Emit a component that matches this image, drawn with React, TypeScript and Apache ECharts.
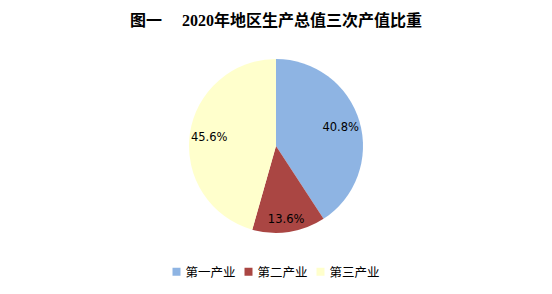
import React, { useEffect, useRef } from "react";
import * as echarts from "echarts";

const categories = ["第一产业", "第二产业", "第三产业"];
const values = [40.8, 13.6, 45.6];
const colors = ["#8EB4E3", "#AA4643", "#FFFFCC"];
const titleText = "图一　 2020年地区生产总值三次产值比重";

export default function App() {
  const ref = useRef<HTMLDivElement>(null);
  useEffect(() => {
    document.body.style.margin = "0";
    const chart = echarts.init(ref.current!, null, { renderer: "svg" });
    const data = categories.map((name, i) => ({
      name,
      value: values[i],
      itemStyle: { color: colors[i] },
    }));
    chart.setOption({
      animation: false,
      backgroundColor: "#ffffff",
      title: {
        text: titleText,
        left: "center",
        top: 7,
        textStyle: {
          fontFamily: "'Liberation Serif', 'Noto Sans CJK SC', serif",
          fontSize: 16,
          fontWeight: "bold",
          color: "#000000",
        },
      },
      legend: {
        data: categories,
        bottom: 11,
        left: "center",
        icon: "rect",
        itemWidth: 8,
        itemHeight: 8,
        itemGap: 9,
        textStyle: {
          fontFamily: "'Noto Sans CJK SC', sans-serif",
          fontSize: 12.5,
          color: "#000000",
        },
      },
      series: [
        {
          type: "pie",
          center: [276, 146],
          radius: [0, 87],
          startAngle: 90,
          clockwise: true,
          label: { show: false },
          labelLine: { show: false },
          emphasis: { disabled: true },
          data,
        },
        {
          type: "pie",
          center: [276, 146],
          radius: [42, 87],
          startAngle: 90,
          clockwise: true,
          silent: true,
          itemStyle: { color: "rgba(0,0,0,0)" },
          legendHoverLink: false,
          label: {
            show: true,
            position: "inside",
            formatter: (p: any) => p.value.toFixed(1) + "%",
            fontFamily: "'DejaVu Sans', sans-serif",
            fontSize: 11.5,
            color: "#000000",
          },
          labelLine: { show: false },
          emphasis: { disabled: true },
          data: categories.map((name, i) => ({
            name: name + " ",
            value: values[i],
            label: i === 1 ? { offset: [0, 6] } : undefined,
          })),
        },
      ],
    });
    return () => chart.dispose();
  }, []);
  return <div ref={ref} style={{ width: 552, height: 294 }} />;
}
